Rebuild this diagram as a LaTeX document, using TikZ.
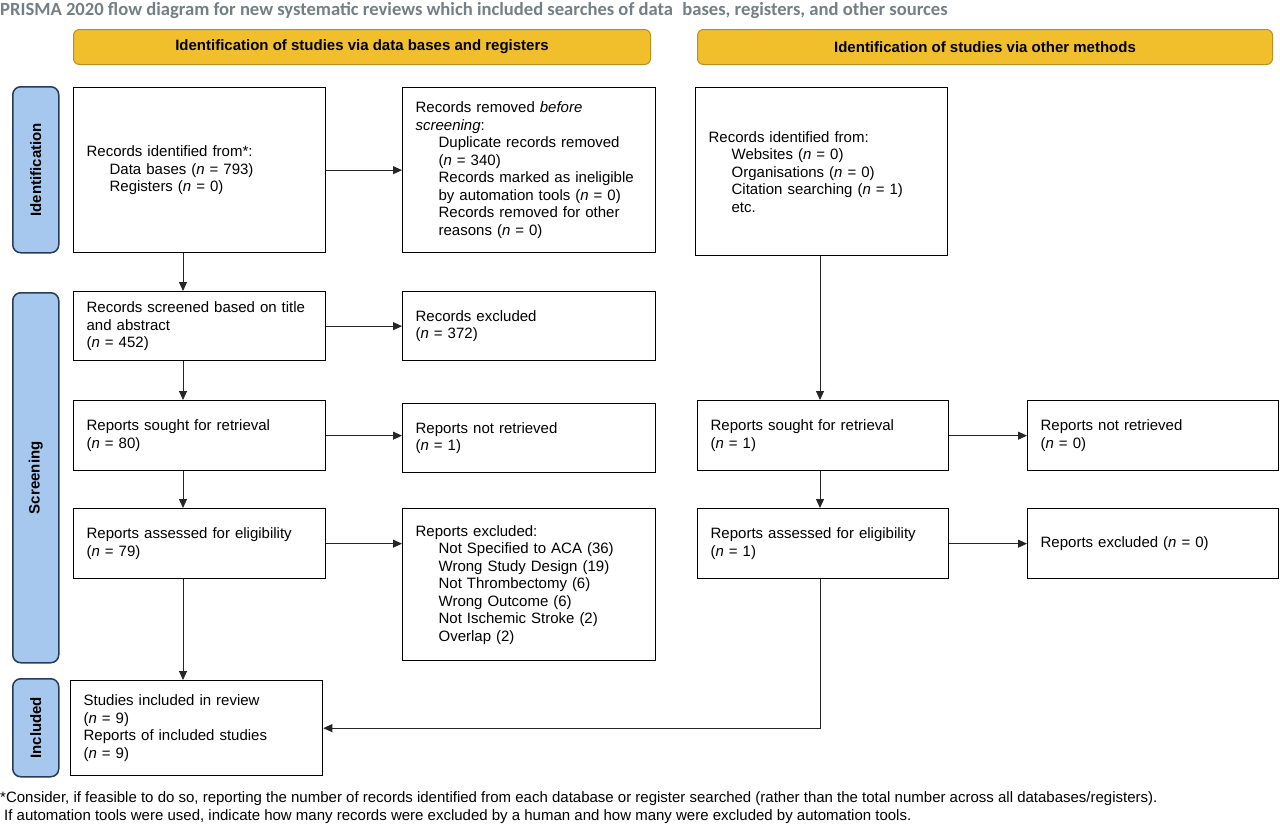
\documentclass[tikz,border=0pt]{standalone}
\usepackage{fontspec}
\setmainfont{Liberation Sans}
\newfontfamily\titlefont{Carlito}
\usetikzlibrary{arrows.meta}
\definecolor{hdrfill}{RGB}{241,190,44}
\definecolor{hdrborder}{RGB}{185,145,35}
\definecolor{sidefill}{RGB}{166,200,238}
\definecolor{sideborder}{RGB}{40,60,90}
\definecolor{titlegray}{RGB}{115,127,132}
\newcommand\fs{\fontsize{15}{17.5}\selectfont}
\newcommand\ind{\hspace*{23pt}}
\newcommand\nn{\textit{n}}
\newcommand\bx[7]{\node[box, minimum width=#4pt, minimum height=#5pt, text width=\dimexpr#4pt-26pt\relax] (#1) at (#2,#3) {#6};}
\begin{document}
\begin{tikzpicture}[x=1pt,y=-1pt,
 box/.style={draw=black, line width=1.3pt, fill=white, anchor=north west, inner xsep=13pt, inner ysep=0pt, align=left, font=\fs},
 hdr/.style={draw=hdrborder, fill=hdrfill, rounded corners=6pt, line width=1pt, font=\bfseries\fs, anchor=north west},
 side/.style={draw=sideborder, fill=sidefill, rounded corners=8pt, line width=1.5pt, anchor=north west},
 sidetext/.style={rotate=90, font=\bfseries\fs},
 arr/.style={-{Triangle[length=9pt,width=8pt]}, line width=0.9pt, draw=black!85},
 foot/.style={anchor=base west, font=\fontsize{15}{17}\selectfont, inner sep=0pt}]
\useasboundingbox (0,0) rectangle (1280,827);
% title
\node[anchor=base west, inner sep=0pt, font=\titlefont\bfseries\fontsize{18.6}{20}\selectfont, text=titlegray] (title) at (0,15.5) {PRISMA 2020 flow diagram for new systematic reviews which included searches of data\enspace bases, registers, and other sources};
% headers
\node[hdr, minimum width=577pt, minimum height=35pt] (h1) at (73,29) {Identification of studies via data bases and registers};
\node[hdr, minimum width=575pt, minimum height=35pt] (h2) at (697,29) {Identification of studies via other methods};
% side labels
\node[side, minimum width=46pt, minimum height=166pt] (s1) at (12,86) {};
\node[sidetext] (s1t) at (s1.center) {Identification};
\node[side, minimum width=46pt, minimum height=370pt] (s2) at (12,292) {};
\node[sidetext] (s2t) at (s2.center) {Screening};
\node[side, minimum width=46pt, minimum height=98pt] (s3) at (12,678) {};
\node[sidetext] (s3t) at (s3.center) {Included};
% boxes
\bx{A}{73}{87}{252}{165}{Records identified from*:\\ \ind Data bases (\nn{} = 793)\\ \ind Registers (\nn{} = 0)}{}
\bx{B}{402}{87}{253}{165}{Records removed \textit{before}\\ \textit{screening}:\\ \ind Duplicate records removed\\ \ind (\nn{} = 340)\\ \ind Records marked as ineligible\\ \ind by automation tools (\nn{} = 0)\\ \ind Records removed for other\\ \ind reasons (\nn{} = 0)}{}
\bx{C}{695}{87}{252}{168}{Records identified from:\\ \ind Websites (\nn{} = 0)\\ \ind Organisations (\nn{} = 0)\\ \ind Citation searching (\nn{} = 1)\\ \ind etc.}{}
\bx{D}{73}{291}{252}{69}{Records screened based on title\\ and abstract\\ (\nn{} = 452)}{}
\bx{E}{402}{291}{253}{69}{Records excluded\\ (\nn{} = 372)}{}
\bx{F}{73}{400}{252}{70}{Reports sought for retrieval\\ (\nn{} = 80)}{}
\bx{G}{402}{403}{253}{69}{Reports not retrieved\\ (\nn{} = 1)}{}
\bx{H}{73}{508}{252}{70}{Reports assessed for eligibility\\ (\nn{} = 79)}{}
\bx{I}{402}{508}{253}{152}{Reports excluded:\\ \ind Not Specified to ACA (36)\\ \ind Wrong Study Design (19)\\ \ind Not Thrombectomy (6)\\ \ind Wrong Outcome (6)\\ \ind Not Ischemic Stroke (2)\\ \ind Overlap (2)}{}
\bx{J}{70}{680}{252}{95}{Studies included in review\\ (\nn{} = 9)\\ Reports of included studies\\ (\nn{} = 9)}{}
\bx{K}{697}{400}{251}{70}{Reports sought for retrieval\\ (\nn{} = 1)}{}
\bx{L}{1027}{400}{251}{70}{Reports not retrieved\\ (\nn{} = 0)}{}
\bx{M}{697}{508}{251}{70}{Reports assessed for eligibility\\ (\nn{} = 1)}{}
\bx{N}{1027}{508}{251}{70}{Reports excluded (\nn{} = 0)}{}
% connectors
\coordinate (cx) at (183,0);
\coordinate (rx) at (820,0);
\draw[arr] (A) -- (B);
\draw[arr] (A.south -| cx) -- (D.north -| cx);
\draw[arr] (D) -- (E);
\draw[arr] (D.south -| cx) -- (F.north -| cx);
\draw[arr] (F.east) -- (F.east -| G.west);
\draw[arr] (F.south -| cx) -- (H.north -| cx);
\draw[arr] (H.east) -- (H.east -| I.west);
\draw[arr] (H.south -| cx) -- (J.north -| cx);
\draw[arr] (C.south -| rx) -- (K.north -| rx);
\draw[arr] (K) -- (L);
\draw[arr] (K.south -| rx) -- (M.north -| rx);
\draw[arr] (M) -- (N);
\draw[arr] (M.south -| rx) |- (J.east);
% footnote
\node[foot] (f1) at (0,802) {*Consider, if feasible to do so, reporting the number of records identified from each database or register searched (rather than the total number across all databases/registers).};
\node[foot] (f2) at (4,820) {If automation tools were used, indicate how many records were excluded by a human and how many were excluded by automation tools.};
\end{tikzpicture}
\end{document}
